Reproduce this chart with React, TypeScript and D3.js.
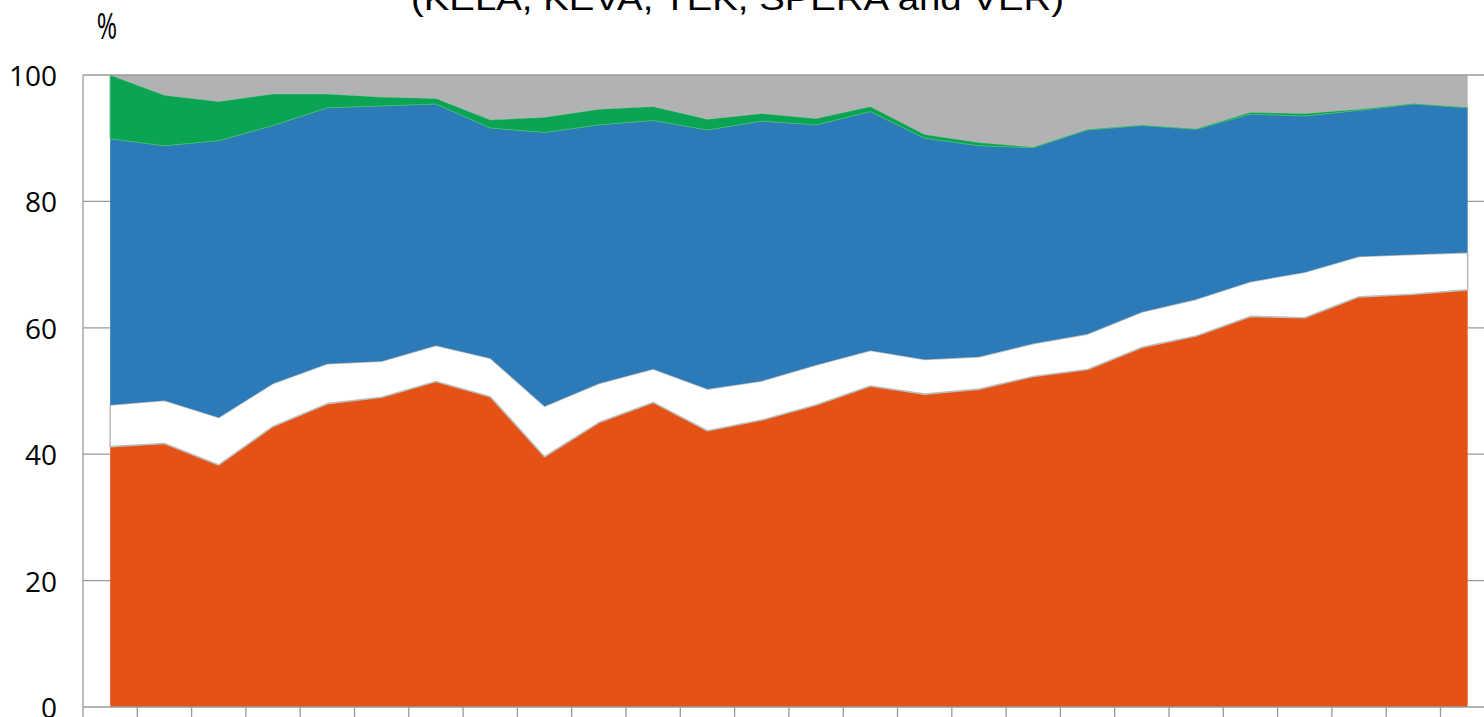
import React from "react";
import * as d3 from "d3";

const categories = [
  "1990", "1991", "1992", "1993", "1994", "1995", "1996", "1997", "1998", "1999",
  "2000", "2001", "2002", "2003", "2004", "2005", "2006", "2007", "2008", "2009",
  "2010", "2011", "2012", "2013", "2014", "2015",
];

const seriesKeys = ["orange", "white", "blue", "green", "gray"];

const orangeShare = [41.2, 41.7, 38.3, 44.4, 48.0, 49.0, 51.5, 49.1, 39.6, 45.0, 48.2, 43.7, 45.4, 47.8, 50.8, 49.5, 50.3, 52.3, 53.4, 56.9, 58.7, 61.8, 61.6, 64.9, 65.3, 66.0];
const whiteShare = [6.6, 6.8, 7.5, 6.8, 6.3, 5.7, 5.7, 6.1, 8.0, 6.2, 5.3, 6.6, 6.2, 6.3, 5.6, 5.5, 5.1, 5.2, 5.6, 5.6, 5.8, 5.5, 7.2, 6.4, 6.3, 5.9];
const blueShare = [42.1, 40.3, 43.8, 40.8, 40.5, 40.4, 38.2, 36.4, 43.3, 40.9, 39.3, 41.0, 41.1, 38.0, 37.8, 35.0, 33.4, 31.0, 32.3, 29.5, 26.9, 26.5, 24.7, 23.1, 23.8, 22.9];
const greenShare = [10.1, 8.0, 6.2, 5.0, 2.2, 1.4, 0.9, 1.3, 2.4, 2.5, 2.2, 1.7, 1.2, 1.0, 0.8, 0.6, 0.5, 0.1, 0.1, 0.1, 0.1, 0.3, 0.4, 0.2, 0.1, 0.1];
const grayShare = [0.0, 3.2, 4.2, 3.0, 3.0, 3.5, 3.7, 7.1, 6.7, 5.4, 5.0, 7.0, 6.1, 6.9, 5.0, 9.4, 10.7, 11.4, 8.6, 7.9, 8.5, 5.9, 6.1, 5.4, 4.5, 5.1];

const yTicks = [0, 20, 40, 60, 80, 100];
const titleText = "(KELA, KEVA, TEK, SPERA and VER)";
const unitLabel = "%";

const W = 1484;
const H = 717;
const left = 83;
const bandW = 54.3;
const top = 75;
const bottom = 707;

const fills: Record<string, string> = {
  orange: "#E55215",
  white: "#FFFFFF",
  blue: "#2C7AB8",
  green: "#0BA354",
  gray: "#B1B2B4",
};
const strokes: Record<string, string> = {
  orange: "none",
  white: "#BDBDBD",
  blue: "none",
  green: "#3DBA6E",
  gray: "none",
};

export default function App() {
  const rows = categories.map((c, i) => ({
    cat: c,
    orange: orangeShare[i],
    white: whiteShare[i],
    blue: blueShare[i],
    green: greenShare[i],
    gray: grayShare[i],
  }));

  const x = d3
    .scaleBand<string>()
    .domain(categories)
    .range([left, left + bandW * categories.length])
    .padding(0);
  const y = d3.scaleLinear().domain([0, 100]).range([bottom, top]);

  const stack = d3.stack<any>().keys(seriesKeys);
  const layers = stack(rows);

  const area = d3
    .area<any>()
    .x((d) => (x(d.data.cat) as number) + x.bandwidth() / 2)
    .y0((d) => y(d[0]))
    .y1((d) => y(d[1]));

  const tickXs = categories.map((c) => x(c) as number);
  const font = "'Open Sans', 'Noto Sans', sans-serif";
  const grid = "#9A9A9A";

  return (
    <svg
      width={W}
      height={H}
      style={{ position: "absolute", left: 0, top: 0, background: "#fff" }}
    >
      {yTicks
        .filter((t) => t > 0 && t < 100)
        .map((t) => (
          <line key={t} x1={left} x2={W} y1={y(t)} y2={y(t)} stroke={grid} strokeWidth={1.3} />
        ))}

      {layers.map((layer) => (
        <path
          key={layer.key}
          d={area(layer) || ""}
          fill={fills[layer.key]}
          stroke={strokes[layer.key]}
          strokeWidth={layer.key === "white" ? 1.6 : 1}
          strokeLinejoin="round"
        />
      ))}

      <line x1={left} x2={W} y1={y(100)} y2={y(100)} stroke={grid} strokeWidth={1.3} />
      <line x1={left} x2={left} y1={y(100)} y2={bottom} stroke={grid} strokeWidth={1.3} />
      <line x1={left} x2={W} y1={bottom} y2={bottom} stroke={grid} strokeWidth={1.3} />
      {tickXs.map((tx, i) => (
        <line key={i} x1={tx} x2={tx} y1={bottom} y2={bottom + 11} stroke={grid} strokeWidth={1.3} />
      ))}

      {yTicks.map((t) => (
        <text
          key={t}
          x={57}
          y={y(t)}
          textAnchor="end"
          dominantBaseline="central"
          fontFamily={font}
          fontSize={28}
          fill="#000"
        >
          {t}
        </text>
      ))}

      <g transform="translate(107,39) scale(0.82,1.2)">
        <text x={0} y={0} textAnchor="middle" fontFamily={font} fontSize={30} fill="#000">
          {unitLabel}
        </text>
      </g>

      <text
        x={411}
        y={10}
        fontFamily="'Liberation Sans', Arial, sans-serif"
        fontSize={34}
        textLength={653}
        lengthAdjust="spacingAndGlyphs"
        fill="#000"
      >
        {titleText}
      </text>
    </svg>
  );
}
